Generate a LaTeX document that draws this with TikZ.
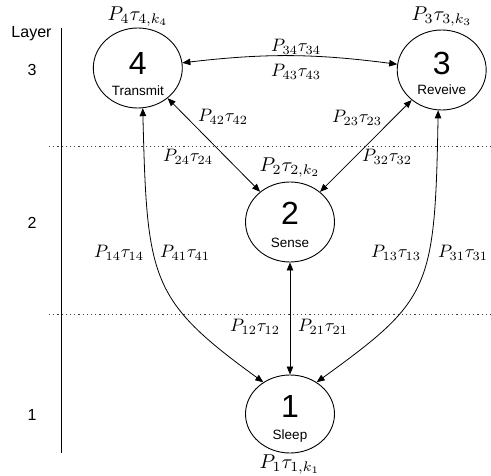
\documentclass[tikz,border=0pt]{standalone}
\usepackage{graphicx}
\usepackage{fontspec}
\newfontfamily\sansf{Liberation Sans}
\usetikzlibrary{arrows.meta,shapes.geometric}
\newcommand{\elab}[1]{\scalebox{1.8}{$#1$}}
\newcommand{\slab}[1]{\scalebox{2.0}{$#1$}}

\begin{document}
\begin{tikzpicture}[x=1pt,y=-1pt,
  state/.style={draw,ellipse,line width=0.9pt,minimum width=89pt,minimum height=80pt,inner sep=0pt},
  bignum/.style={font=\sansf\fontsize{32}{32}\selectfont,inner sep=0pt,anchor=base},
  statename/.style={font=\sansf\fontsize{13.5}{14}\selectfont,inner sep=0pt,anchor=base},
  link/.style={line width=0.8pt,{Triangle[length=8pt,width=6.5pt]}-{Triangle[length=8pt,width=6.5pt]}},
  elabel/.style={inner sep=0pt},
  slabel/.style={inner sep=0pt},
  layertxt/.style={font=\sansf\fontsize{16}{18}\selectfont,inner sep=0pt},
  sep/.style={line width=0.8pt,dash pattern=on 1.2pt off 3pt,black!75}
]
\useasboundingbox (0,0) rectangle (491,476);

% layer axis and separators
\node[layertxt] (laytitle) at (31.5,34) {Layer};
\node[layertxt] (lay3) at (32,70) {3};
\node[layertxt] (lay2) at (32,223) {2};
\node[layertxt] (lay1) at (32,415) {1};
\coordinate (axtop) at (61.5,28);
\coordinate (axbot) at (61.5,453);
\draw[line width=0.9pt] (axtop) -- (axbot);
\coordinate (sepAl) at (49,146);
\coordinate (sepAr) at (491,146);
\coordinate (sepBl) at (49,314.5);
\coordinate (sepBr) at (491,314.5);
\draw[sep] (sepAl) -- (sepAr);
\draw[sep] (sepBl) -- (sepBr);

% states
\node[state] (n4) at (137.8,68) {};
\node[state] (n3) at (441.7,70) {};
\node[state] (n2) at (290,222) {};
\node[state,minimum height=78pt] (n1) at (290,414) {};

\node[bignum] (n4num) at (137.8,75) {4};
\node[bignum] (n3num) at (441.7,75) {3};
\node[bignum] (n2num) at (290,225) {2};
\node[bignum] (n1num) at (290,418) {1};

\node[statename] (n4name) at (137.8,96) {Transmit};
\node[statename] (n3name) at (441.7,95) {Reveive};
\node[statename] (n2name) at (290,248) {Sense};
\node[statename] (n1name) at (290,439.5) {Sleep};

\node[slabel] (s4) at (138,17) {\slab{P_4\tau_{4,k_4}}};
\node[slabel] (s3) at (442,17) {\slab{P_3\tau_{3,k_3}}};
\node[slabel] (s2) at (290,168) {\slab{P_2\tau_{2,k_2}}};
\node[slabel] (s1) at (290,464.5) {\slab{P_1\tau_{1,k_1}}};

% transitions
\draw[link] (n4) to[bend left=7] (n3);
\draw[link] (n4) -- (n2);
\draw[link] (n3) -- (n2);
\draw[link] (n2) -- (n1);
\coordinate (c41a) at (147,280);
\coordinate (c41b) at (150,300);
\draw[link] (n4.-83) .. controls (c41a) and (c41b) .. (n1.130);
\coordinate (c31a) at (435,290);
\coordinate (c31b) at (430,300);
\draw[link] (n3.-95) .. controls (c31a) and (c31b) .. (n1.50);

% transition labels
\node[elabel] (l34) at (296,47) {\elab{P_{34}\tau_{34}}};
\node[elabel] (l43) at (296,72) {\elab{P_{43}\tau_{43}}};
\node[elabel] (l42) at (223,117) {\elab{P_{42}\tau_{42}}};
\node[elabel] (l24) at (188,157) {\elab{P_{24}\tau_{24}}};
\node[elabel] (l23) at (357,118) {\elab{P_{23}\tau_{23}}};
\node[elabel] (l32) at (387,157) {\elab{P_{32}\tau_{32}}};
\node[elabel] (l14) at (119,253) {\elab{P_{14}\tau_{14}}};
\node[elabel] (l41) at (185,253) {\elab{P_{41}\tau_{41}}};
\node[elabel] (l13) at (396,253) {\elab{P_{13}\tau_{13}}};
\node[elabel] (l31) at (463,253) {\elab{P_{31}\tau_{31}}};
\node[elabel] (l12) at (255,327) {\elab{P_{12}\tau_{12}}};
\node[elabel] (l21) at (323,327) {\elab{P_{21}\tau_{21}}};
\end{tikzpicture}
\end{document}
